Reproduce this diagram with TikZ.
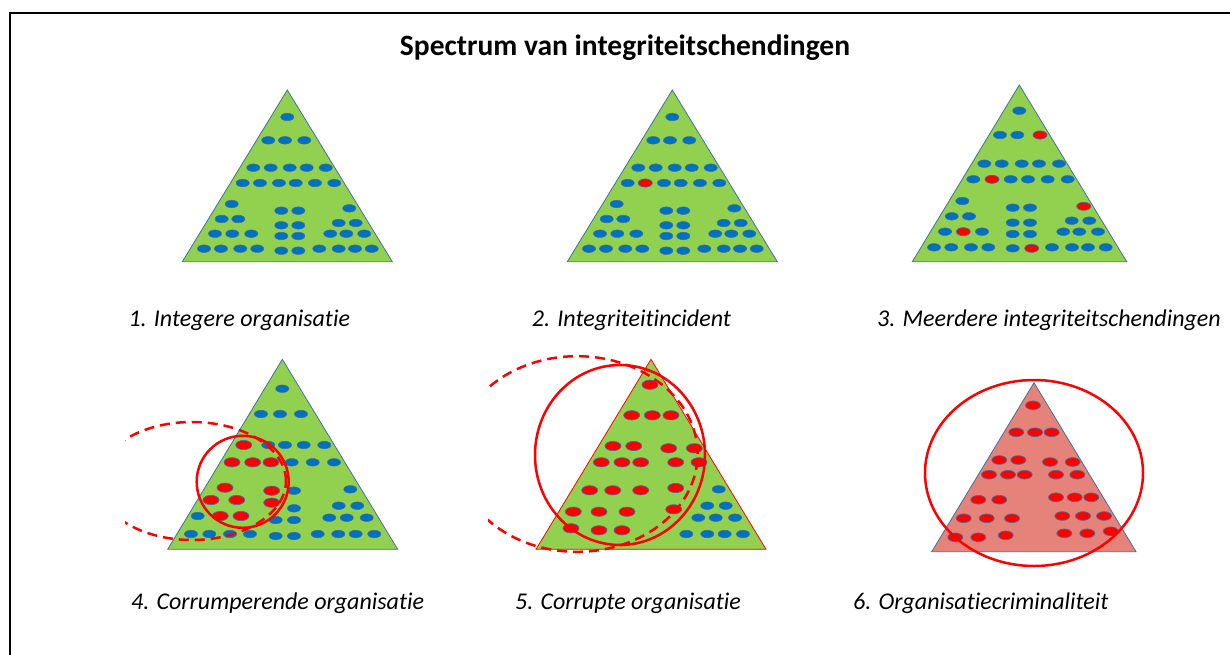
\documentclass[tikz,border=0pt]{standalone}
\usepackage{fontspec}
\setmainfont{Carlito}[RawFeature=-liga]
\definecolor{trigreen}{RGB}{146,208,80}
\definecolor{triedge}{RGB}{65,113,156}
\definecolor{dotblue}{RGB}{0,112,192}
\definecolor{dotedge}{RGB}{65,113,156}
\definecolor{salmon}{RGB}{229,130,122}
\definecolor{myred}{RGB}{255,0,0}
\tikzset{
  tri/.style={fill=trigreen, draw=triedge, line width=0.8pt},
  bdot/.style={fill=dotblue, draw=dotedge, line width=0.5pt},
  rdot/.style={fill=myred, draw=dotedge, line width=0.7pt},
  ring/.style={draw=myred, line width=2.5pt},
  dring/.style={draw=myred, line width=2.5pt, dash pattern=on 10pt off 6pt},
  lbl/.style={font=\fontsize{24}{28}\selectfont\itshape, anchor=west, inner sep=0pt},
  ttl/.style={font=\fontsize{29.5}{34}\selectfont\bfseries, inner sep=0pt}
}
\newcommand{\Bset}[1]{\foreach \px/\py in {#1} \path[bdot] (\px,\py) ellipse[x radius=6.6pt, y radius=3.8pt];}
\newcommand{\Rset}[2]{\foreach \px/\py in {#2} \path[rdot] (\px,\py) ellipse[x radius=#1pt, y radius=0.58*#1pt];}
\newcommand{\patternOne}{%
\Bset{287.3/117, 268.3/140.3, 285/140.3, 304.3/140.3,
253.3/167.7, 270.7/167.7, 289.7/167.7, 306.7/167.7, 325.7/167.7,
242.7/183, 260/183, 279/183, 295.7/183, 315/183, 334.3/183,
231.7/204, 221.7/219, 238.3/219, 215/233.7, 232.3/233.7, 251.3/233.7,
204/248.7, 221/248.7, 240.3/248.7, 257.3/248.7,
281.3/210.7, 298.3/210.7, 281.3/225.3, 298.3/225.3, 281.3/236, 298.3/236, 281.3/250.7, 298.3/250.7,
349.3/208.3, 338.7/223, 355.7/223, 330.3/233.7, 346.3/233.7, 364.3/233.7,
319.3/248.7, 338.7/248.7, 355/248.7, 371.7/248.7}}
\begin{document}
\begin{tikzpicture}[x=1pt, y=-1pt]
\useasboundingbox (0,0) rectangle (1230,655);
\fill[white] (0,0) rectangle (1230,655);
% frame
\draw[line width=2pt] (10,655) -- (10,13) -- (1230,13);
% title
\node[ttl] (title) at (625,48) {Spectrum van integriteitschendingen};

% triangle 1
\draw[tri] (287.3,90) -- (392.3,261.7) -- (182.3,261.7) -- cycle;
\patternOne
% triangle 2
\draw[tri] (672.3,90) -- (777.3,261.7) -- (567.3,261.7) -- cycle;
\begin{scope}[shift={(385pt,0pt)}]
\patternOne
\end{scope}
\Rset{7}{645.3/183}
% triangle 3
\draw[tri] (1019.3,85) -- (1126.7,261.7) -- (912.3,261.7) -- cycle;
\Bset{1019.3/110.7, 1000/135, 1017.3/135,
984.3/163.7, 1001.7/163.7, 1021.7/163.7, 1039/163.7, 1059/163.7,
973.3/179.3, 1010.7/179.3, 1028/179.3, 1047.7/179.3, 1067.7/179.3,
962.3/201, 951.7/216.3, 969/216.3, 945/231.7, 982/231.7,
934/247.3, 951.3/247.3, 971/247.3, 988.3/247.3,
1012.7/207.7, 1030/207.7, 1012.7/222.7, 1030/222.7, 1012.7/234, 1030/234, 1012.7/248.3,
1071.7/220.7, 1089.3/220.7, 1063.3/231.7, 1079.3/231.7, 1098/231.7,
1052/247.3, 1072/247.3, 1088/247.3, 1105.7/247.3}
\Rset{7}{1040/135, 992/179.3, 963.3/231.7, 1031.7/248.3, 1083.7/206.3}

% triangle 4
\draw[tri] (282.3,359.3) -- (397.7,549.3) -- (167.7,549.3) -- cycle;
\Bset{282.3/388.7, 261/414, 280/414, 301/414,
268.3/445, 285/445, 303.7/445, 324.3/445,
291.7/462.3, 312.7/462.3, 334/462.3,
197.7/516, 191/534, 209.3/534, 230/534, 250/534,
294/490.7, 294/508.3, 275.7/520, 294/520, 275.7/536, 294/536,
350.3/489.3, 338.7/505.7, 357.3/505.7, 329.3/517.7, 346.7/517.7, 366.7/517.7,
317.7/534, 338.3/534, 355.7/534, 374.3/534}
\Rset{8}{243.7/445, 232/462.3, 252.7/462.3, 271/462.3, 225/487.7, 211/500, 236.7/500,
220.3/516, 241/516, 271.7/490.7, 271.7/502.7}
\begin{scope}
\clip (125,0) rectangle (1230,655);
\draw[dring] (192,481) ellipse[x radius=94pt, y radius=59pt];
\end{scope}
\draw[ring] (242.7,481.8) circle[radius=46pt];

% triangle 5
\draw[tri, draw=myred] (651,359.3) -- (766,549.3) -- (536,549.3) -- cycle;
\Bset{718.7/489.3, 707.3/505.7, 725.7/505.7, 698.3/517.7, 715.7/517.7, 735/517.7,
686.3/534, 707.3/534, 724.7/534, 743/534}
\Rset{8}{650/384.7, 631.7/415.3, 652.3/415.3, 671/415.3,
613/446, 633.7/446, 668.7/448.3, 694.3/448.3,
601.3/462.3, 622/462.3, 640.7/462.3, 675.7/462.3, 699/462.3,
589.7/490.3, 612.7/490.3, 640.7/490.3, 573.3/511.7, 599/511.7, 627/511.7,
571/528.3, 599/530.3, 622/530.3, 675.7/488, 673.7/509.3}
\begin{scope}
\clip (488,0) rectangle (1230,655);
\draw[dring] (577,454) ellipse[x radius=120.6pt, y radius=97.8pt];
\end{scope}
\draw[ring] (620,455) ellipse[x radius=85pt, y radius=90pt];

% triangle 6
\draw[tri, fill=salmon] (1034,382.7) -- (1136,551.7) -- (931.7,551.7) -- cycle;
\Rset{7.5}{1033/405.3, 1016.3/432.3, 1035/432.3, 1051.7/432.3,
999.3/460, 1018.3/460, 1050/462, 1072.7/462,
989/474.7, 1008/474.7, 1024.7/474.7, 1056/474.7, 1077.3/474.7,
978.3/499.7, 999.3/499.7, 963.7/518.3, 986.7/518.3, 1012/518.3,
955.3/537.3, 978.3/537.3, 1005.7/535.3,
1056/497.3, 1074.7/497.3, 1091.3/497.3, 1062.3/516, 1083/516, 1104/516,
1064.3/533.3, 1087.3/533.3, 1110.7/531.3}
\draw[ring] (1034,473) ellipse[x radius=109pt, y radius=93pt];

% labels
\node[lbl] (l1) at (128.3,320) {1. Integere organisatie};
\node[lbl] (l2) at (531.7,320) {2. Integriteitincident};
\node[lbl] (l3) at (877,320) {3. Meerdere integriteitschendingen};
\node[lbl] (l4) at (131,603) {4. Corrumperende organisatie};
\node[lbl] (l5) at (515,603) {5. Corrupte organisatie};
\node[lbl] (l6) at (853,603) {6. Organisatiecriminaliteit};
\end{tikzpicture}
\end{document}
